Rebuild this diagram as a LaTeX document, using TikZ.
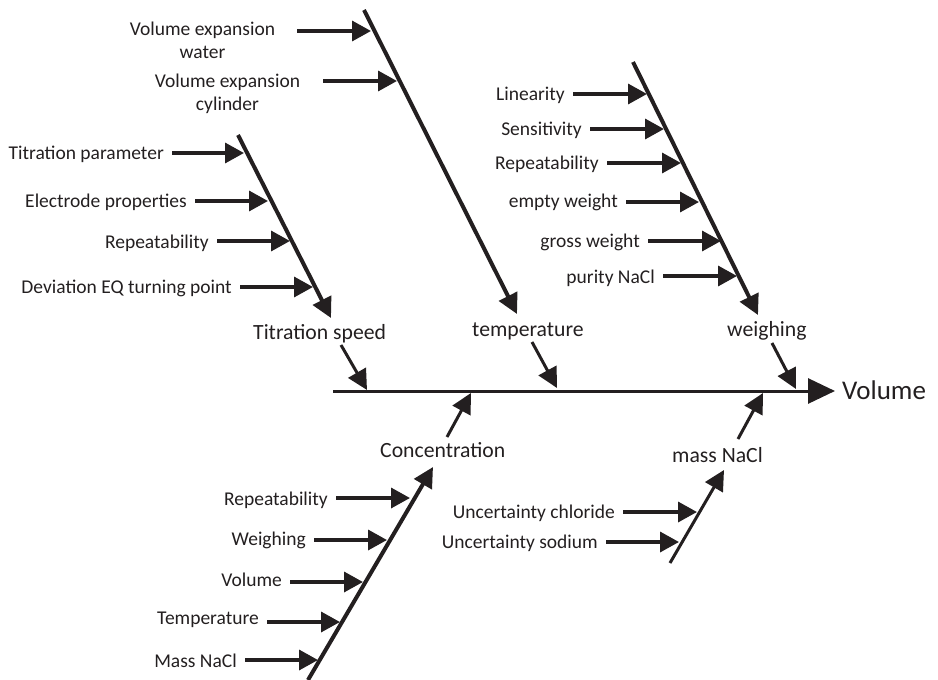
\documentclass[tikz,border=0pt]{standalone}
\usepackage{fontspec}
\setmainfont{Carlito}
\usetikzlibrary{arrows.meta}
\definecolor{ink}{HTML}{231F20}
\begin{document}
\begin{tikzpicture}[x=1pt,y=-1pt,
  lab/.style={font=\fontsize{19.5}{23}\selectfont, text=ink, inner ysep=0pt, inner xsep=8pt, anchor=base east},
  labtwo/.style={font=\fontsize{19.5}{23}\selectfont, text=ink, inner ysep=0pt, anchor=base},
  cat/.style={font=\fontsize{21.7}{26}\selectfont, text=ink, inner sep=0pt, anchor=base west},
  sarr/.style={draw=ink, color=ink, line width=3.5pt, -{Triangle[length=19pt,width=20pt]}},
  bone/.style={draw=ink, color=ink, line width=4pt, -{Triangle[length=20pt,width=20pt]}},
  plainbone/.style={draw=ink, line width=3.5pt},
  carr/.style={draw=ink, color=ink, line width=3pt, -{Triangle[length=20pt,width=20pt]}},
  spine/.style={draw=ink, color=ink, line width=3pt, -{Triangle[length=27pt,width=25pt]}}
]
\useasboundingbox (0,0) rectangle (938,680);

% spine
\coordinate (s0) at (333,391);
\node[cat, font=\fontsize{27}{32}\selectfont] (vol) at (842,399) {Volume};
\draw[spine, shorten >=7pt] (s0) -- (vol.west |- s0);

% category labels
\node[cat] (ts) at (253,339) {Titration speed};
\node[cat] (tp) at (472,336) {temperature};
\node[cat] (wg) at (727,336) {weighing};
\node[cat] (cc) at (380,457) {Concentration};
\node[cat] (mn) at (672,462) {mass NaCl};

% bones
\coordinate (bT0) at (364,10);  \coordinate (bT1) at (517,314);
\coordinate (bS0) at (238,135); \coordinate (bS1) at (331,318);
\coordinate (bW0) at (633,62);  \coordinate (bW1) at (758,315);
\coordinate (bC0) at (308,680); \coordinate (bC1) at (433,467);
\coordinate (bM0) at (670,563); \coordinate (bM1) at (724,470);
\draw[bone] (bT0) -- (bT1);
\draw[bone] (bS0) -- (bS1);
\draw[bone] (bW0) -- (bW1);
\draw[bone] (bC0) -- (bC1);
\draw[carr] (bM0) -- (bM1);

% category to spine
\coordinate (ts1) at (341,345); \coordinate (ts2) at (367,390);
\coordinate (tp1) at (532,342); \coordinate (tp2) at (557,388);
\coordinate (wg1) at (772,343); \coordinate (wg2) at (796,389);
\coordinate (cc1) at (447,437); \coordinate (cc2) at (471,393);
\coordinate (mn1) at (738,439); \coordinate (mn2) at (763,393);
\draw[carr] (ts1) -- (ts2);
\draw[carr] (tp1) -- (tp2);
\draw[carr] (wg1) -- (wg2);
\draw[carr] (cc1) -- (cc2);
\draw[carr] (mn1) -- (mn2);

% temperature causes
\node[labtwo, inner xsep=22pt] (ve1) at (202.5,35) {\begin{tabular}[t]{@{}c@{}}Volume expansion\\water\end{tabular}};
\node[labtwo, inner xsep=23pt] (ve2) at (227.5,87) {\begin{tabular}[t]{@{}c@{}}Volume expansion\\cylinder\end{tabular}};
\coordinate (pv1) at (371,31); \coordinate (pv2) at (397,81);
\draw[sarr] (ve1.east |- pv1) -- (pv1);
\draw[sarr] (ve2.east |- pv2) -- (pv2);

% titration speed causes
\node[lab] (a1) at (172,159) {Titration parameter};
\node[lab] (a2) at (195,207) {Electrode properties};
\node[lab] (a3) at (217,248) {Repeatability};
\node[lab] (a4) at (240,293) {Deviation EQ turning point};
\coordinate (pa1) at (244,153); \coordinate (pa2) at (268,201);
\coordinate (pa3) at (290,241); \coordinate (pa4) at (313,287);
\draw[sarr] (a1.east |- pa1) -- (pa1);
\draw[sarr] (a2.east |- pa2) -- (pa2);
\draw[sarr] (a3.east |- pa3) -- (pa3);
\draw[sarr] (a4.east |- pa4) -- (pa4);

% weighing causes
\node[lab] (w1) at (573,100) {Linearity};
\node[lab] (w2) at (590,135) {Sensitivity};
\node[lab] (w3) at (607,169) {Repeatability};
\node[lab] (w4) at (626,207) {empty weight};
\node[lab] (w5) at (648,247) {gross weight};
\node[lab] (w6) at (663,283) {purity NaCl};
\coordinate (pw1) at (647,94);  \coordinate (pw2) at (664,129);
\coordinate (pw3) at (681,163); \coordinate (pw4) at (699,202);
\coordinate (pw5) at (721,241); \coordinate (pw6) at (737,276);
\draw[sarr] (w1.east |- pw1) -- (pw1);
\draw[sarr] (w2.east |- pw2) -- (pw2);
\draw[sarr] (w3.east |- pw3) -- (pw3);
\draw[sarr] (w4.east |- pw4) -- (pw4);
\draw[sarr] (w5.east |- pw5) -- (pw5);
\draw[sarr] (w6.east |- pw6) -- (pw6);

% concentration causes
\node[lab] (c1) at (336,505) {Repeatability};
\node[lab] (c2) at (314,545) {Weighing};
\node[lab] (c3) at (290,586) {Volume};
\node[lab] (c4) at (267,624) {Temperature};
\node[lab] (c5) at (245,667) {Mass NaCl};
\coordinate (pc1) at (410,498); \coordinate (pc2) at (387,540);
\coordinate (pc3) at (363,582); \coordinate (pc4) at (340,622);
\coordinate (pc5) at (318,660);
\draw[sarr] (c1.east |- pc1) -- (pc1);
\draw[sarr] (c2.east |- pc2) -- (pc2);
\draw[sarr] (c3.east |- pc3) -- (pc3);
\draw[sarr] (c4.east |- pc4) -- (pc4);
\draw[sarr] (c5.east |- pc5) -- (pc5);

% mass NaCl causes
\node[lab] (m1) at (623,518) {Uncertainty chloride};
\node[lab] (m2) at (606,548) {Uncertainty sodium};
\coordinate (pm1) at (697,512); \coordinate (pm2) at (679,542);
\draw[sarr] (m1.east |- pm1) -- (pm1);
\draw[sarr] (m2.east |- pm2) -- (pm2);
\end{tikzpicture}
\end{document}
